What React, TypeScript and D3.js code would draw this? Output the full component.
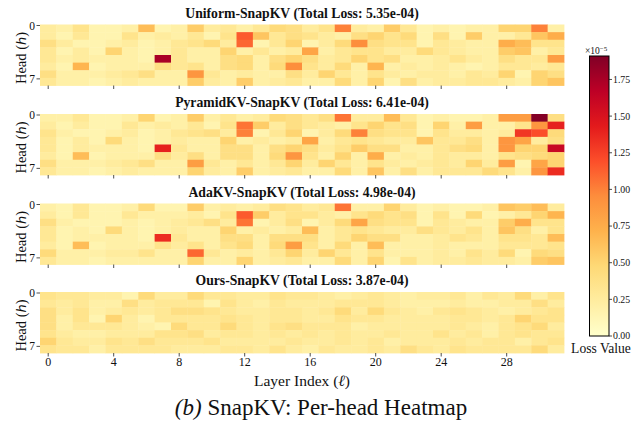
import React from "react";
import * as d3 from "d3";

// ---- data (loss values in units of 1e-6) ----
const layerTicks = [0, 4, 8, 12, 16, 20, 24, 28];
const headTicks = [0, 7];
const titles = [
  "Uniform-SnapKV (Total Loss: 5.35e-04)",
  "PyramidKV-SnapKV (Total Loss: 6.41e-04)",
  "AdaKV-SnapKV (Total Loss: 4.98e-04)",
  "Ours-SnapKV (Total Loss: 3.87e-04)",
];

const uniformSnapKV = [
  [2.5,2,3.5,1.5,1.5,2,6.5,1.5,2,5.5,2.5,3,2,3,4.5,4, 2.5,3.5,10,2.5,2,5.5,3,1.5,2,1.5,2,2,5,5,10,2],
  [2.5,1.5,3,1.5,1.5,3.5,2,2.5,2,3,1.5,3.5,11.5,6,3,4, 3.5,2.5,2,4,5,3.5,4.5,1.5,4,1.5,5.5,2,2,3,6,7.5],
  [4,2.5,1.5,1.5,2,2.5,1.5,2,3,3.5,4.5,2.5,11,1.5,3,5, 1.5,2.5,4.5,9.5,4,3.5,3.5,1.5,3,2.5,2,2,7.5,6.5,3.5,3.5],
  [3,1.5,2.5,1.5,5,2,1.5,2,3,2,2,5,2,3,2,2.5, 8,2,3,3.5,3.5,2.5,2.5,4.5,3,2.5,2,2,5.5,6,2,3],
  [3,2,2.5,2,2,2,1.5,17.5,3,2,2,4,4.5,2,4,5, 4,2.5,3,5,3.5,4,2,2,2.5,3.5,2.5,2,4,3,3,8.5],
  [2.5,1.5,7,1.5,2,2,2,4,3,3.5,2,4,4.5,2,4.5,9.5, 3.5,2.5,4.5,2,7,2,2.5,2,2.5,2,1.5,2,3,3,2.5,3],
  [4,2,2,2,2.5,3,4,2,2,9,3,2,2.5,2,2,4, 2.5,5,3,2,3.5,2.5,2,2.5,2.5,2,3,2.5,5,1.5,5,4],
  [3,2,2,1.5,2,2.5,2,2,2,5.5,2.5,2,5.5,2,2.5,3, 2,2,4.5,2,5,1.5,4,2,2.5,2.5,3,3,2.5,2,5,6],
];

const pyramidSnapKV = [
  [2,2,3,1.5,1.5,2,5,1.5,2,5.5,2,3,2,2.5,4.5,4, 3,4,10.5,2.5,2.5,6.5,3,1.5,2,1.5,1.5,2,8.5,8.5,19,4],
  [2.5,1.5,2.5,1.5,1.5,3,2,2.5,2,3,1.5,3.5,10.5,5.5,2.5,4, 3,2.5,2,3.5,5,3.5,4,1.5,5,2,8.5,2,2,3.5,9,14],
  [3.5,2,1.5,1.5,2,2.5,1.5,2,3,3.5,4,2.5,10,1.5,3,5, 1.5,2.5,4.5,10,4,3.5,3.5,1.5,3.5,2.5,2.5,2,2.5,13,12,4.5],
  [3,1.5,2.5,1.5,4.5,2,1.5,2,2.5,2,2,5,2,2.5,2,2.5, 8,2,3,3.5,3,2.5,2.5,6,3,3,4,2,9,8,2.5,4],
  [3,1.5,2.5,2,2,2,1.5,14,3,2,2,4,4,2,4,5, 4,2.5,3.5,5.5,4,4,2,2,3,4,4.5,2,9,5,5,16],
  [2.5,1.5,6.5,1.5,2,2,2,4,2.5,4,2,4,4,2,4.5,9, 3.5,2,5,2,7.5,2,2.5,2,3,2.5,2.5,2,3.5,4,4.5,5],
  [4,2,2,2,2.5,3,4,2,2,8.5,3,2,3,2,3,5, 2.5,5,3,2,3.5,2.5,2,2.5,3,2.5,5,2.5,8.5,1.5,8,5],
  [3,2,2,1.5,2,2.5,2,2,2,5,2.5,2,5.5,2,2.5,3, 2,2,4.5,2,6,2,4,2,3,3,3,4.5,3.5,2,9,13.5],
];

const adaSnapKV = [
  [2,1.5,3,1.5,1.5,2,4.5,1.5,1.5,5.5,2,2.5,2,2.5,4,3.5, 2.5,3,10.5,2,2,5,2.5,1.5,2,1.5,1.5,2,6,5.5,6.5,2.5],
  [2.5,1.5,3,1.5,1.5,3,2,2,2,2.5,1.5,3.5,11.5,5.5,2.5,3.5, 3.5,2.5,2,3.5,4.5,3.5,4,1.5,3.5,1.5,4.5,1.5,2,3,5,7],
  [4,2,1.5,1.5,1.5,2,1.5,2,2.5,3,4,2.5,10.5,1.5,2.5,4, 1.5,2.5,4.5,8,4,3.5,3.5,1.5,3,2.5,2,2,5.5,7.5,3.5,3.5],
  [3,1.5,2,1.5,4.5,2,1.5,2,2.5,2,2,5,2,2.5,2,2.5, 6.5,2,3,3.5,3,2.5,2.5,4,3,2.5,3.5,2,6,4,2,3.5],
  [3,1.5,2,2,2,2,1.5,13.5,3,2,2,4,4,2,4,4, 4,2,3,5,4,4,2,2,2.5,3.5,3,2,3.5,3.5,3,6.5],
  [2.5,1.5,6.5,1.5,2,2,2,3.5,2.5,3.5,2,3.5,4.5,2,4.5,8.5, 3.5,2,4.5,2,6.5,2,2,2,2.5,2,2,2,3,3,3,3.5],
  [4.5,2,2,2,2.5,2.5,3.5,2,2,11,3,2,2.5,2,3,5, 2.5,5,3,2,3.5,2,2,2,2.5,2,3.5,2.5,4.5,1.5,4.5,4],
  [3,2,2,1.5,2,2,2,2,2,5,2,2,5,2,2.5,3, 2,2,4.5,2,5,1.5,3.5,2,2.5,2.5,3,2.5,2.5,2,5.5,6],
];

const oursSnapKV = [
  [3.5,3,3,2.5,2.5,1.5,4.5,2.5,2.5,4.5,3,3,2.5,2.5,3.5,3, 3,2.5,2,2.5,3,2.5,2,2.5,2.5,3,2,3,2.5,4.5,2,3.5],
  [3,2.5,3,2,2,4,2.5,3,3,3,1.5,3.5,2.5,2,3,2.5, 2.5,2.5,3,3,3,2.5,2,2,2,2.5,2,2,2.5,2.5,4,2.5],
  [4,2.5,3.5,2,2.5,3,2.5,3,4,4,3.5,3,2.5,2.5,3,3, 2.5,3,4.5,2.5,4.5,3,2.5,2,3,3.5,3,2.5,2,2.5,3,3.5],
  [4,2,3.5,1.5,5,2.5,1.5,3,3,3,3,3.5,3,2.5,3,3, 2.5,2.5,3.5,3,3,2.5,2.5,2.5,2.5,3,3,2.5,3,5,3.5,3.5],
  [4,2,3,3,3,2.5,2,1.5,4.5,3,3,4.5,3,2.5,3.5,4, 3,3,3,2,2.5,2.5,2.5,2.5,2.5,3,2.5,2,3,3.5,4.5,2.5],
  [3.5,2.5,2,2,2.5,2.5,2.5,3.5,3.5,4,2.5,3,3,2.5,3,2.5, 3,2.5,3,2.5,2.5,3,2.5,2.5,3.5,2.5,3,2,3,3.5,3,3],
  [5,3,2.5,2.5,3.5,3,4,3,3,3,3.5,2.5,2.5,2.5,2.5,3, 2.5,2.5,3,2.5,3,2,2.5,2.5,2.5,3,2.5,3,3,2,3,3.5],
  [3.5,3,3,2,3,3,3,3,2.5,2.5,2.5,3,3,2.5,3.5,2.5, 2,3,2.5,2.5,3,2.5,4,3,2.5,3.5,3,3,3,3,4.5,2.5],
];

const matrices = [uniformSnapKV, pyramidSnapKV, adaSnapKV, oursSnapKV];
const colorbarTicks = [0, 0.25, 0.5, 0.75, 1.0, 1.25, 1.5, 1.75]; // x 1e-5
const vmax = 1.91e-5;
const ylOrRd = ["#ffffcc", "#ffeda0", "#fed976", "#feb24c", "#fd8d3c", "#fc4e2a", "#e31a1c", "#bd0026", "#800026"];

const SERIF = "'Liberation Serif', 'Times New Roman', serif";

export default function App() {
  const W = 640, H = 426;
  const nL = 32, nH = 8;
  const x0 = 40, x1 = 564;
  const tops = [24.5, 114, 203.5, 292];
  const hmH = 61;

  const xBand = d3.scaleBand<number>().domain(d3.range(nL)).range([x0, x1]).padding(0);
  const bw = xBand.bandwidth();
  const color = d3
    .scaleLinear<string>()
    .domain(ylOrRd.map((_, i) => (i / (ylOrRd.length - 1)) * vmax))
    .range(ylOrRd)
    .clamp(true);

  const cbX = 589.5, cbW = 19.5, cbTop = 56, cbBot = 336;
  const cbY = d3.scaleLinear().domain([0, vmax]).range([cbBot, cbTop]);

  return (
    <svg
      width={W}
      height={H}
      viewBox={`0 0 ${W} ${H}`}
      style={{ position: "fixed", left: 0, top: 0, display: "block", background: "#fff" }}
      fontFamily={SERIF}
    >
      <defs>
        <linearGradient id="cbgrad" x1="0" y1="1" x2="0" y2="0">
          {ylOrRd.map((c, i) => (
            <stop key={i} offset={i / (ylOrRd.length - 1)} stopColor={c} />
          ))}
        </linearGradient>
      </defs>
      <rect x={0} y={0} width={W} height={H} fill="#fff" />
      {matrices.map((mat, k) => {
        const top = tops[k];
        const yBand = d3.scaleBand<number>().domain(d3.range(nH)).range([top, top + hmH]).padding(0);
        const bh = yBand.bandwidth();
        const bottom = top + hmH;
        return (
          <g key={k}>
            <text x={(x0 + x1) / 2} y={top - 7} textAnchor="middle" fontSize={13.7} fontWeight="bold" fill="#111">
              {titles[k]}
            </text>
            {mat.map((row, r) =>
              row.map((v, c) => (
                <rect
                  key={`${r}-${c}`}
                  x={xBand(c)!}
                  y={yBand(r)!}
                  width={bw + 0.4}
                  height={bh + 0.4}
                  fill={color(v * 1e-6)}
                />
              ))
            )}
            {headTicks.map((h) => {
              const ty = yBand(h)! + 1;
              return (
                <g key={h}>
                  <line x1={x0 - 3.5} x2={x0} y1={ty} y2={ty} stroke="#222" strokeWidth={0.8} />
                  <text x={x0 - 5} y={ty} dy="0.35em" textAnchor="end" fontSize={11.5} fill="#111">
                    {h}
                  </text>
                </g>
              );
            })}
            {layerTicks.map((l) => {
              const tx = xBand(l)! + bw / 2;
              return (
                <g key={l}>
                  <line x1={tx} x2={tx} y1={bottom} y2={bottom + 3.5} stroke="#222" strokeWidth={0.8} />
                  {k === matrices.length - 1 && (
                    <text x={tx} y={bottom + 13} textAnchor="middle" fontSize={12} fill="#111">
                      {l}
                    </text>
                  )}
                </g>
              );
            })}
            <text
              transform={`translate(26, ${top + hmH / 2 + 3}) rotate(-90)`}
              textAnchor="middle"
              fontSize={14.5}
              fill="#111"
            >
              Head (<tspan fontStyle="italic" fontFamily="'DejaVu Sans', sans-serif" fontSize={13}>h</tspan>)
            </text>
          </g>
        );
      })}

      <text x={(x0 + x1) / 2} y={386} textAnchor="middle" fontSize={15.5} fill="#111">
        Layer Index (<tspan fontStyle="italic">ℓ</tspan>)
      </text>

      <text x={321} y={415} textAnchor="middle" fontSize={23} fill="#111">
        <tspan fontStyle="italic">(b)</tspan> SnapKV: Per-head Heatmap
      </text>

      {/* colorbar */}
      <rect x={cbX} y={cbTop} width={cbW} height={cbBot - cbTop} fill="url(#cbgrad)" stroke="#000" strokeWidth={1} />
      {colorbarTicks.map((t) => {
        const ty = cbY(t * 1e-5);
        return (
          <g key={t}>
            <line x1={cbX + cbW} x2={cbX + cbW + 3} y1={ty} y2={ty} stroke="#222" strokeWidth={0.8} />
            <text x={cbX + cbW + 4} y={ty} dy="0.35em" fontSize={9.8} fill="#111">
              {t.toFixed(2)}
            </text>
          </g>
        );
      })}
      <text x={585} y={54} fontSize={9.5} fill="#111">
        ×10<tspan dy={-3.5} fontSize={7}>−5</tspan>
      </text>
      <text x={601} y={353} textAnchor="middle" fontSize={13.6} fill="#111">
        Loss Value
      </text>
    </svg>
  );
}
